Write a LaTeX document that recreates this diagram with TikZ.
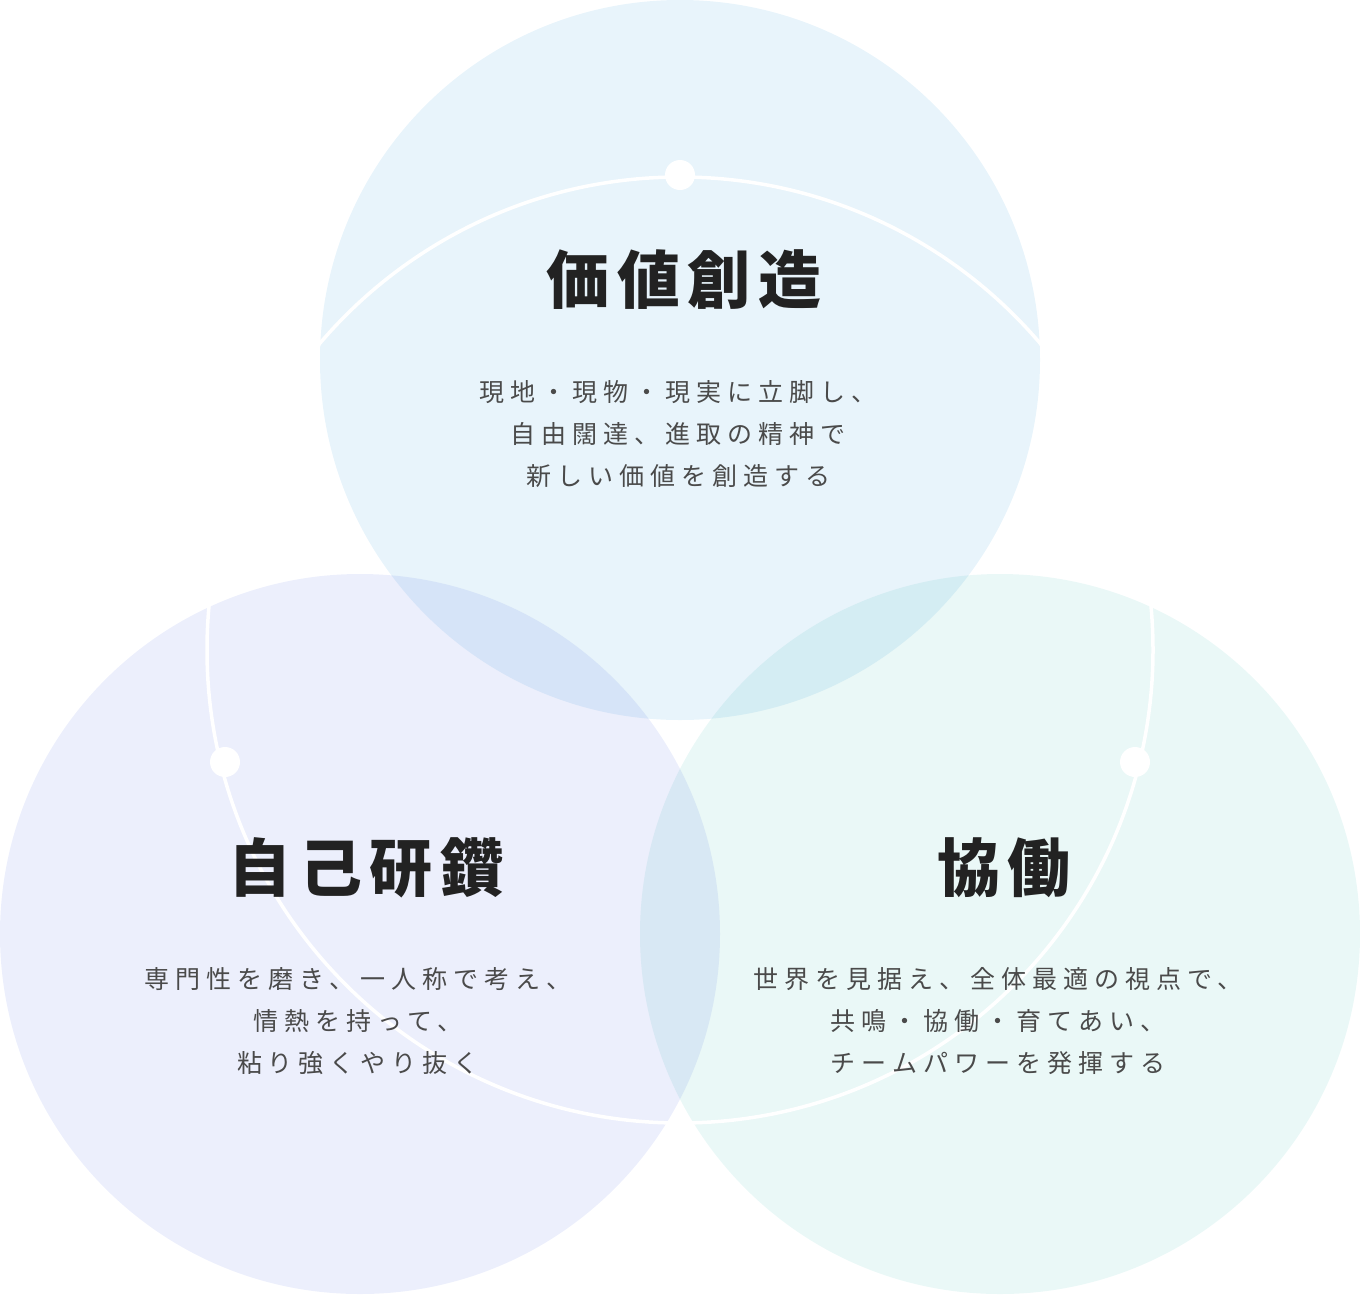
\documentclass[tikz,border=0pt]{standalone}
\usepackage{fontspec}
\usetikzlibrary{calc}
\newfontfamily\jpbody{Noto Sans CJK JP}[LetterSpace=24]
\newfontfamily\jptitle{Noto Sans CJK JP}[LetterSpace=12]
\definecolor{skyfill}{HTML}{E8F4FB}
\definecolor{lavfill}{HTML}{ECEFFC}
\definecolor{mintfill}{HTML}{EAF8F7}
\definecolor{titleink}{HTML}{222222}
\definecolor{bodyink}{HTML}{4A4A4A}
\tikzset{
  valuecircle/.style={blend mode=multiply},
  ringline/.style={white, line width=3.5pt},
  ringdot/.style={white},
  titletext/.style={text=titleink, font={\jptitle\bfseries\fontsize{63}{70}\selectfont}},
  bodytext/.style={text=bodyink, align=center, font={\jpbody\fontsize{25}{42}\selectfont}}
}
\begin{document}
\begin{tikzpicture}[x=1pt, y=-1pt]
    \useasboundingbox (0,0) rectangle (1360,1294);
    \coordinate (top) at (680,360);
    \coordinate (left) at (360,934);
    \coordinate (right) at (1000,934);
    \coordinate (ring) at (680,650);
    % three circles
    \fill[skyfill, valuecircle] (top) circle (360);
    \fill[lavfill, valuecircle] (left) circle (360);
    \fill[mintfill, valuecircle] (right) circle (360);
    % white ring and its dots
    \draw[ringline] (ring) circle (473);
    \coordinate (dtop) at (680,175);
    \coordinate (dleft) at (225,762);
    \coordinate (dright) at (1135,762);
    \foreach \p in {dtop,dleft,dright} {\fill[ringdot] (\p) circle (15);}
    % texts
    \node[titletext] (tcreate) at (684,280) {価値創造};
    \node[bodytext] (bcreate) at (678,434) {現地・現物・現実に立脚し、\\自由闊達、進取の精神で\\新しい価値を創造する};
    \node[titletext] (tgrow) at (366,868) {自己研鑽};
    \node[bodytext] (bgrow) at (358,1021) {専門性を磨き、一人称で考え、\\情熱を持って、\\粘り強くやり抜く};
    \node[titletext] (twork) at (1004,868) {協働};
    \node[bodytext] (bwork) at (998,1021) {世界を見据え、全体最適の視点で、\\共鳴・協働・育てあい、\\チームパワーを発揮する};
\end{tikzpicture}
\end{document}
